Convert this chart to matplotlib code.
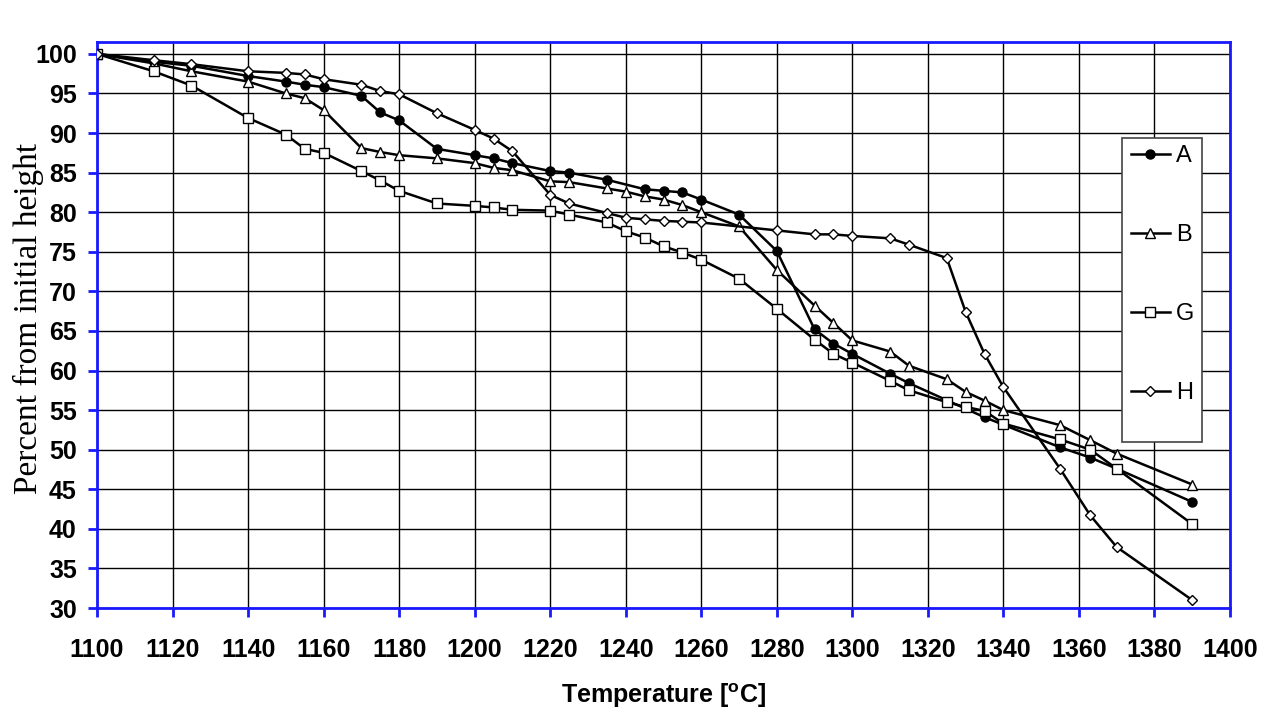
import matplotlib
matplotlib.use("Agg")
import matplotlib.pyplot as plt
from matplotlib.lines import Line2D
from matplotlib.patches import Rectangle

# ---- data ----
T_A = [1100, 1115, 1125, 1140, 1150, 1155, 1160, 1170, 1175, 1180, 1190, 1200, 1205, 1210,
       1220, 1225, 1235, 1245, 1250, 1255, 1260, 1270, 1280, 1290, 1295, 1300, 1310, 1315,
       1335, 1355, 1363, 1370, 1390]
A = [100, 99.0, 98.5, 97.2, 96.5, 96.1, 95.8, 94.7, 92.6, 91.6, 88.0, 87.2, 86.8, 86.2,
     85.2, 85.0, 84.1, 82.9, 82.7, 82.5, 81.6, 79.7, 75.1, 65.2, 63.4, 62.1, 59.6, 58.4,
     54.1, 50.3, 49.0, 47.6, 43.4]

T_B = [1100, 1115, 1125, 1140, 1150, 1155, 1160, 1170, 1175, 1180, 1190, 1200, 1205, 1210,
       1220, 1225, 1235, 1240, 1245, 1250, 1255, 1260, 1270, 1280, 1290, 1295, 1300, 1310,
       1315, 1325, 1330, 1335, 1340, 1355, 1363, 1370, 1390]
B = [100, 98.8, 97.8, 96.5, 95.0, 94.4, 92.9, 88.1, 87.6, 87.2, 86.8, 86.2, 85.6, 85.3,
     83.9, 83.8, 83.0, 82.6, 82.0, 81.6, 80.9, 80.0, 78.2, 72.7, 68.2, 66.0, 63.8, 62.4,
     60.6, 58.9, 57.3, 56.2, 55.0, 53.1, 51.2, 49.5, 45.6]

T_G = [1100, 1115, 1125, 1140, 1150, 1155, 1160, 1170, 1175, 1180, 1190, 1200, 1205, 1210,
       1220, 1225, 1235, 1240, 1245, 1250, 1255, 1260, 1270, 1280, 1290, 1295, 1300, 1310,
       1315, 1325, 1330, 1335, 1340, 1355, 1363, 1370, 1390]
G = [100, 97.8, 96.0, 91.9, 89.8, 88.0, 87.5, 85.2, 84.0, 82.7, 81.1, 80.8, 80.6, 80.3,
     80.2, 79.7, 78.7, 77.6, 76.8, 75.7, 74.9, 74.0, 71.6, 67.8, 63.9, 62.1, 61.0, 58.7,
     57.5, 56.0, 55.4, 54.9, 53.3, 51.3, 50.0, 47.6, 40.6]

T_H = [1100, 1115, 1125, 1140, 1150, 1155, 1160, 1170, 1175, 1180, 1190, 1200, 1205, 1210,
       1220, 1225, 1235, 1240, 1245, 1250, 1255, 1260, 1280, 1290, 1295, 1300, 1310, 1315,
       1325, 1330, 1335, 1340, 1355, 1363, 1370, 1390]
H = [100, 99.2, 98.7, 97.8, 97.6, 97.4, 96.8, 96.1, 95.3, 94.9, 92.5, 90.4, 89.3, 87.7,
     82.2, 81.1, 79.9, 79.3, 79.1, 78.9, 78.8, 78.7, 77.7, 77.2, 77.2, 77.0, 76.7, 75.9,
     74.2, 67.4, 62.1, 57.9, 47.6, 41.7, 37.7, 31.0]

labels = ["A", "B", "G", "H"]
x_ticks = list(range(1100, 1401, 20))
y_ticks = list(range(30, 101, 5))

# ---- figure ----
W, Hpx = 1263, 709
fig = plt.figure(figsize=(W / 100, Hpx / 100), dpi=100)
L, R, TOP, BOT = 97, 1230, 42, 608
ax = fig.add_axes([L / W, 1 - BOT / Hpx, (R - L) / W, (BOT - TOP) / Hpx])

def ax_x(px):
    return (px - L) / (R - L)

def ax_y(py):
    return (BOT - py) / (BOT - TOP)

styles = [
    dict(marker="o", mfc="black", ms=6.5),
    dict(marker="^", mfc="white", ms=7.5),
    dict(marker="s", mfc="white", ms=7),
    dict(marker="D", mfc="white", ms=5.5),
]
series = [(T_A, A), (T_B, B), (T_G, G), (T_H, H)]
handles = []
for (xs, ys), st, lab in zip(series, styles, labels):
    ax.plot(xs, ys, color="black", lw=1.8, mec="black", mew=1.0, zorder=3, **st)
    handles.append(Line2D([], [], color="black", lw=1.8, mec="black", mew=1.0, **st))

ax.set_xlim(1100, 1400)
ax.set_ylim(30, 101.5)
ax.set_xticks(x_ticks)
ax.set_yticks(y_ticks)
ax.grid(True, color="black", lw=1.0)
ax.set_axisbelow(True)
for s in ax.spines.values():
    s.set_color("#1a1aff")
    s.set_linewidth(2)
ax.tick_params(axis="both", colors="#1a1aff", direction="out", length=6.5, width=2,
               labelcolor="black")
for lab in ax.get_xticklabels() + ax.get_yticklabels():
    lab.set_fontfamily("Liberation Sans")
    lab.set_fontweight("bold")
    lab.set_fontsize(18)
ax.tick_params(axis="x", pad=15)
ax.tick_params(axis="y", pad=8)

ax.set_xlabel("Temperature [$\\mathregular{^o}$C]", fontfamily="Liberation Sans",
              fontweight="bold", fontsize=18, labelpad=14)
ax.set_ylabel("Percent from initial height", fontfamily="Liberation Serif",
              fontsize=24)
ax.yaxis.set_label_coords(ax_x(44), ax_y(318))

# legend box drawn as a plain rectangle, entries placed inside
box = Rectangle((ax_x(1122), ax_y(442)), ax_x(1202) - ax_x(1122), ax_y(138) - ax_y(442),
                transform=ax.transAxes, facecolor="white", edgecolor="#444444",
                lw=1.2, zorder=4, clip_on=False)
ax.add_patch(box)
leg = ax.legend(handles, labels, loc="upper left",
                bbox_to_anchor=(ax_x(1131), ax_y(145)),
                frameon=False, prop={"family": "Liberation Sans", "size": 17},
                labelspacing=2.42, handlelength=1.65, handletextpad=0.25,
                borderpad=0, borderaxespad=0)
leg.set_zorder(5)

fig.savefig("out.png", dpi=100)
